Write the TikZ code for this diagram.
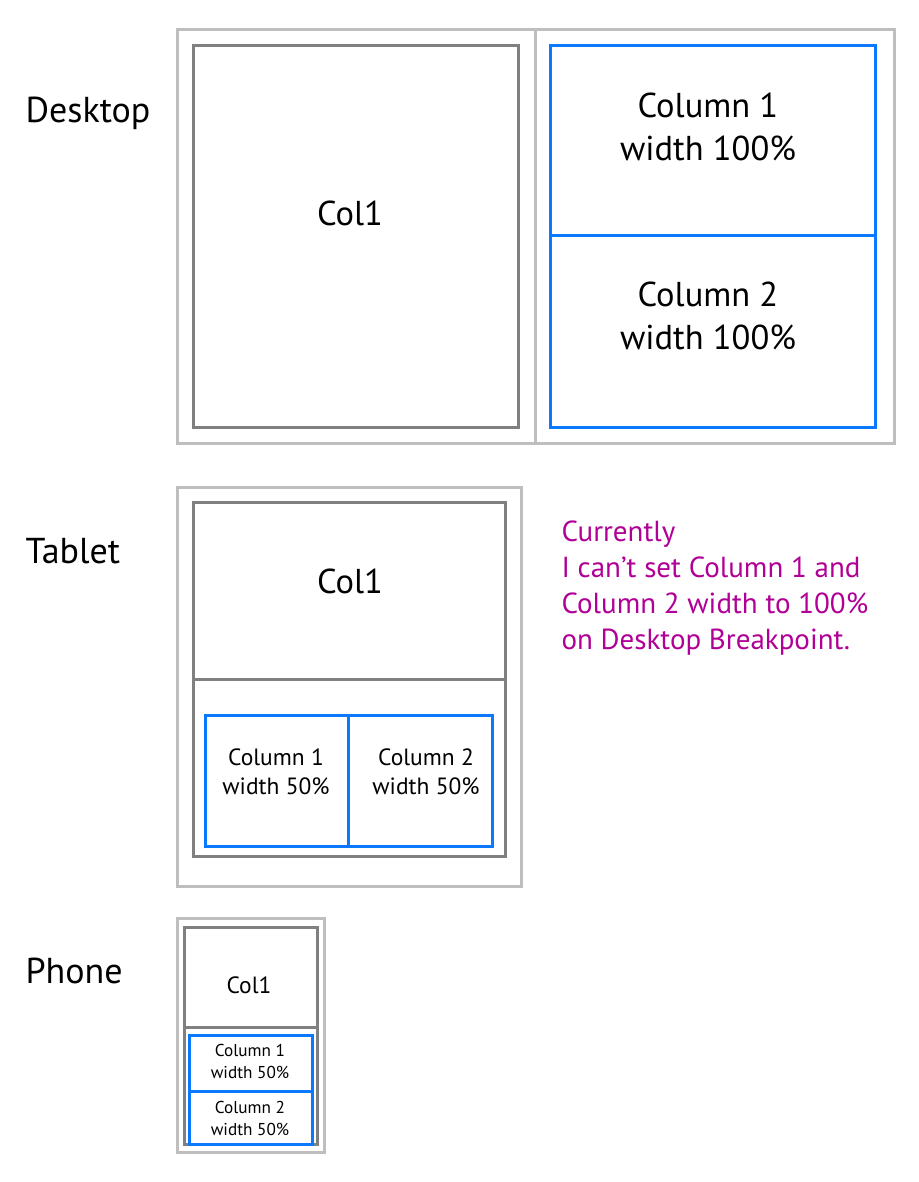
\documentclass[tikz,border=0pt]{standalone}
\usepackage{fontspec}
\setmainfont{PT Sans}
\usepackage{tikz}
\usetikzlibrary{calc}

\definecolor{frame}{RGB}{190,190,190}
\definecolor{colgrey}{RGB}{128,128,128}
\definecolor{colblue}{RGB}{10,120,255}
\definecolor{notepurple}{RGB}{176,0,150}

\tikzset{
    outer/.style={draw=frame, line width=3pt},
    inner/.style={draw=colgrey, line width=3pt},
    blue/.style={draw=colblue, line width=3pt},
    lbl/.style={anchor=west, font=\fontsize{36}{40}\selectfont},
    big/.style={align=center, font=\fontsize{34.5}{43}\selectfont},
    mid/.style={align=center, font=\fontsize{23.5}{29}\selectfont},
    tiny/.style={align=center, font=\fontsize{17.2}{22}\selectfont}
}

\begin{document}
\begin{tikzpicture}[x=1pt, y=-1pt]
            \useasboundingbox (0,0) rectangle (918,1182);

            % desktop
            \draw[outer] (177,30) rectangle (894,443);
            \draw[outer] (535,30)--(535,443);
            \draw[inner] (193,46) rectangle (518,427);
            \draw[blue] (550,46) rectangle (875,427);
            \draw[blue] (550,236)--(875,236);
            \node[lbl] (desktop) at (22,113) {Desktop};
            \node[big] (dcol) at (350,213) {Col1};
            \node[big] (dc1) at (708,127) {Column 1\\width 100\%};
            \node[big] (dc2) at (708,316) {Column 2\\width 100\%};

            % tablet
            \draw[outer] (177,487) rectangle (521,886);
            \draw[inner] (193,502) rectangle (505,856);
            \draw[inner] (193,679)--(505,679);
            \draw[blue] (205,715) rectangle (492,846);
            \draw[blue] (348,715)--(348,846);
            \node[lbl] (tablet) at (22,551) {Tablet};
            \node[big] (tcol) at (350,581) {Col1};
            \node[mid] (tc1) at (276,772) {Column 1\\width 50\%};
            \node[mid] (tc2) at (426,772) {Column 2\\width 50\%};

            \node[anchor=north west, align=left, text=notepurple,
                  font=\fontsize{29}{36}\selectfont] (note) at (558,517)
                  {Currently\\I can’t set Column 1 and\\Column 2 width to 100\%\\on Desktop Breakpoint.};

            % phone
            \draw[outer] (177,918) rectangle (324,1152);
            \draw[inner] (184,927) rectangle (317,1144);
            \draw[inner] (184,1027)--(317,1027);
            \draw[blue] (189,1035) rectangle (312,1144);
            \draw[blue] (189,1091)--(312,1091);
            \node[lbl] (phone) at (22,971) {Phone};
            \node[mid] (pcol) at (249,985) {Col1};
            \node[tiny] (pc1) at (250,1061) {Column 1\\width 50\%};
            \node[tiny] (pc2) at (250,1118) {Column 2\\width 50\%};
        \end{tikzpicture}
\end{document}
